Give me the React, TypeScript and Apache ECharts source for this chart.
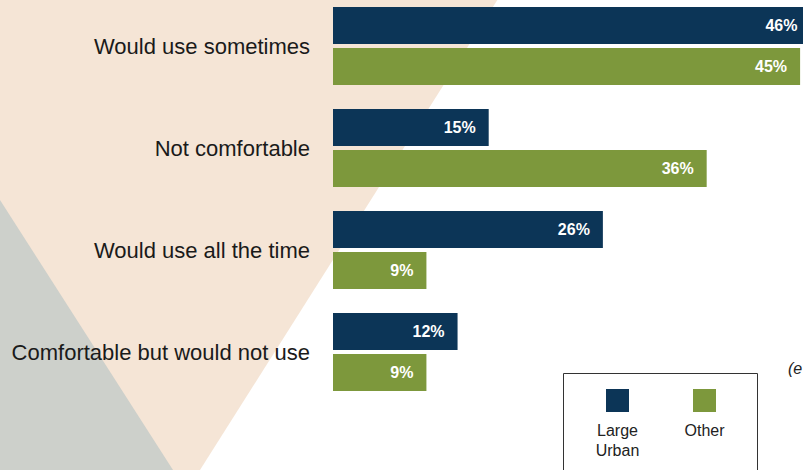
import React, { useEffect, useRef } from "react";
import * as echarts from "echarts";

const categories = [
  "Would use sometimes",
  "Not comfortable",
  "Would use all the time",
  "Comfortable but would not use",
];
const seriesNames = ["Large Urban", "Other"];
const legendLabels = ["Large\nUrban", "Other"];
const largeUrban = [46, 15, 26, 12];
const other = [45, 36, 9, 9];
const colors = ["#0C3557", "#7D983C"];

// the chart canvas is larger than the page and shifted up by OFF px
const OFF = 10;

export default function App() {
  const ref = useRef<HTMLDivElement>(null);
  useEffect(() => {
    if (!ref.current) return;
    const chart = echarts.init(ref.current, null, { renderer: "svg" });
    const labelCfg = {
      show: true,
      position: "insideRight" as const,
      distance: 13,
      color: "#ffffff",
      fontWeight: "bold" as const,
      fontSize: 16,
      fontFamily: "Liberation Sans",
      formatter: (p: any) => `${p.value}%`,
    };
    chart.setOption({
      animation: false,
      backgroundColor: "#ffffff",
      grid: { left: 333, top: OFF - 5, width: 519, height: 408, containLabel: false },
      xAxis: {
        type: "value",
        min: 0,
        max: 50,
        show: false,
      },
      yAxis: {
        type: "category",
        data: categories,
        inverse: true,
        axisLine: { show: false },
        axisTick: { show: false },
        splitLine: { show: false },
        axisLabel: {
          fontSize: 22,
          fontFamily: "Liberation Sans",
          color: "#1a1a1a",
          margin: 23,
          padding: [0, 0, 5, 0],
        },
      },
      graphic: [
        {
          type: "group",
          x: 0,
          y: OFF,
          z: -10,
          silent: true,
          children: [
            {
              type: "polygon",
              z: -10,
              shape: { points: [[0, -20], [510, -20], [200, 470], [0, 470]] },
              style: { fill: "#F5E5D6" },
            },
            {
              type: "polygon",
              z: -9,
              shape: { points: [[0, 200], [173, 470], [0, 470]] },
              style: { fill: "#CDD0CB" },
            },
          ],
        },
        {
          type: "group",
          x: 0,
          y: OFF,
          z: 5,
          children: [
            {
              type: "rect",
              z: 5,
              shape: { x: 563.5, y: 373.5, width: 194, height: 100 },
              style: { fill: "#ffffff", stroke: "#333333", lineWidth: 1 },
            },
            ...seriesNames.map((n, i) => ({
              type: "rect",
              z: 6,
              shape: { x: 606 + i * 87, y: 389, width: 23, height: 23 },
              style: { fill: colors[i] },
            })),
            ...legendLabels.map((t, i) => ({
              type: "text",
              z: 6,
              x: 617.5 + i * 87,
              y: 420,
              style: {
                text: t,
                fill: "#222222",
                font: "16px 'Liberation Sans'",
                align: "center",
                verticalAlign: "top",
                lineHeight: 20,
              },
            })),
            {
              type: "text",
              z: 6,
              x: 788,
              y: 368,
              style: {
                text: "(e",
                fill: "#222222",
                font: "italic 16px 'Liberation Sans'",
                align: "left",
                verticalAlign: "middle",
              },
            },
          ],
        },
      ],
      series: [
        {
          name: seriesNames[0],
          type: "bar",
          data: largeUrban,
          barWidth: 37,
          barGap: "10.8%",
          itemStyle: { color: colors[0] },
          label: labelCfg,
        },
        {
          name: seriesNames[1],
          type: "bar",
          data: other,
          barWidth: 37,
          barGap: "10.8%",
          itemStyle: { color: colors[1] },
          label: labelCfg,
        },
      ],
    });
    return () => chart.dispose();
  }, []);
  return (
    <div
      ref={ref}
      style={{ width: 900, height: 480 + OFF, position: "fixed", left: 0, top: -OFF }}
    />
  );
}
